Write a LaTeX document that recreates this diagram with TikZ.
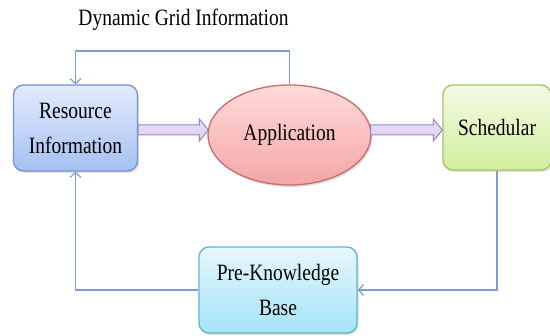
\documentclass[tikz,border=0pt]{standalone}
\usepackage{fontspec}
\usepackage{graphicx}
\setmainfont{Liberation Serif}
\usetikzlibrary{shapes.geometric,arrows.meta,shadows,calc}
\definecolor{conncol}{HTML}{7B9FD3}
\definecolor{resTop}{HTML}{E2EBFC}
\definecolor{resBot}{HTML}{A6C0F2}
\definecolor{resBorder}{HTML}{7094D2}
\definecolor{appTop}{HTML}{FFDADA}
\definecolor{appBot}{HTML}{F4A6A6}
\definecolor{appBorder}{HTML}{C76B6B}
\definecolor{schTop}{HTML}{F4FBE3}
\definecolor{schBot}{HTML}{D2EF9E}
\definecolor{schBorder}{HTML}{A6C36A}
\definecolor{pkbTop}{HTML}{E6F8FD}
\definecolor{pkbBot}{HTML}{A5E3F6}
\definecolor{pkbBorder}{HTML}{5AB6CF}
\definecolor{arrFill}{HTML}{DACDF0}
\definecolor{arrBorder}{HTML}{9A86C4}
\newcommand{\stt}[1]{\scalebox{1}[1.2]{#1}}
\begin{document}
\begin{tikzpicture}[x=1pt,y=1pt,
  lbl/.style={font=\fontsize{19.5}{35}\selectfont, align=center, text=black},
  boxbase/.style={lbl, rectangle, rounded corners=10pt, line width=1.3pt,
    drop shadow={opacity=0.25, shadow xshift=1.5pt, shadow yshift=-2pt}},
  resbox/.style={boxbase, draw=resBorder, top color=resTop, bottom color=resBot},
  schbox/.style={boxbase, draw=schBorder, top color=schTop, bottom color=schBot},
  pkbbox/.style={boxbase, draw=pkbBorder, top color=pkbTop, bottom color=pkbBot},
  appell/.style={lbl, ellipse, line width=1.3pt, draw=appBorder, top color=appTop, bottom color=appBot,
    drop shadow={opacity=0.25, shadow xshift=1.5pt, shadow yshift=-2pt}},
  conn/.style={draw=conncol, line width=1.4pt, -{Straight Barb[length=5pt,width=11pt,line width=1.2pt]}},
  barrow/.style={draw=arrBorder, line width=1pt, top color=arrFill!60!white, bottom color=arrFill,
    to path={let \p1=(\tikztostart), \p2=(\tikztotarget) in
      (\x1,\y1+5) -- (\x2-9,\y1+5) -- (\x2-9,\y1+11) -- (\x2,\y1) -- (\x2-9,\y1-11)
      -- (\x2-9,\y1-5) -- (\x1,\y1-5) -- cycle}}
]
\useasboundingbox (0,0) rectangle (550,-336);
\fill[white] (0,0) rectangle (550,-336);

\node[lbl] (title) at (183.5,-20) {\stt{Dynamic Grid Information}};

\node[resbox, minimum width=124pt, minimum height=86pt] (res) at (75.5,-128) {\stt{Resource}\\\stt{Information}};
\node[appell, minimum width=163pt, minimum height=100pt] (app) at (289.5,-135) {\stt{Application}};
\node[schbox, minimum width=108pt, minimum height=85pt] (sch) at (497,-127.5) {\stt{Schedular}};
\node[pkbbox, minimum width=158pt, minimum height=86pt] (pkb) at (278,-290) {\stt{Pre-Knowledge}\\\stt{Base}};

\coordinate (a1s) at ($(res.east)+(0,-2)$);
\coordinate (a1e) at ($(app.west |- a1s)+(1,0)$);
\coordinate (a2s) at ($(app.east |- a1s)+(-1,0)$);
\coordinate (a2e) at (sch.west |- a1s);
\path[barrow] (a1s) to (a1e);
\path[barrow] (a2s) to (a2e);

\coordinate (topy) at (0,-51);
\draw[conn] (app.north) -- (app.north |- topy) -| (res.north);
\draw[conn] (pkb.west) -| (res.south);
\draw[conn] (sch.south) |- (pkb.east);
\end{tikzpicture}
\end{document}
